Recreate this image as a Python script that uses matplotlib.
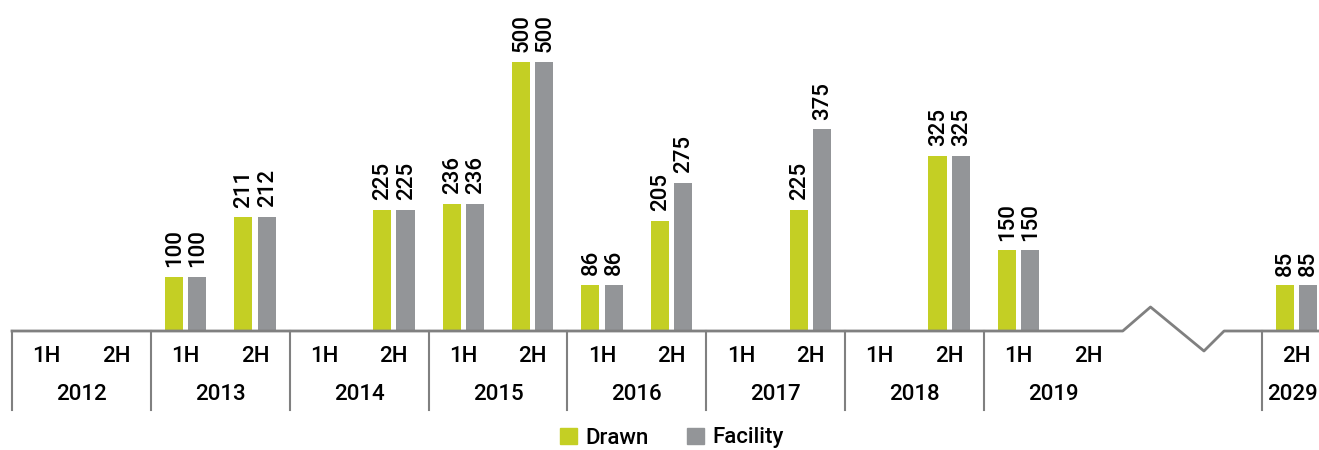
import numpy as np
import matplotlib.pyplot as plt
from matplotlib.patches import Patch

plt.rcParams['font.family'] = ['Roboto', 'DejaVu Sans']
plt.rcParams['font.weight'] = 'medium'

# half-year slots (2012 1H .. 2019 2H, then 2029 2H after the break)
years = ["2012", "2013", "2014", "2015", "2016", "2017", "2018", "2019", "2029"]
halves = ["1H", "2H"] * 8 + ["2H"]
drawn = [None, None, 100, 211, None, 225, 236, 500, 86, 205,
         None, 225, None, 325, 150, None, 85]
facility = [None, None, 100, 212, None, 225, 236, 500, 86, 275,
            None, 375, None, 325, 150, None, 85]

green = "#c4cf24"
grey = "#939598"
line_col = "#808080"
px = 0.538  # pixels per value unit (500 -> 269 px)

# slot positions: 16 slots, then 2 units gap for the break
pos = np.array(list(np.arange(16) + 0.5) + [18.5])
brk_start, brk_end = 16, 18

fig = plt.figure(figsize=(13.19, 4.5), dpi=100)
ax = fig.add_axes([12 / 1319, 119 / 450, 1.0, 331 / 450])
ax.set_xlim(0, 19)
ax.set_ylim(0, 331 / px)
ax.axis("off")

off, w = 0.168, 0.26
d = np.array([np.nan if v is None else v for v in drawn], dtype=float)
f = np.array([np.nan if v is None else v for v in facility], dtype=float)
ax.bar(pos - off, d, width=w, color=green, zorder=2)
ax.bar(pos + off, f, width=w, color=grey, zorder=2)

for xs, vals in ((pos - off, d), (pos + off, f)):
    for x, v in zip(xs, vals):
        if np.isnan(v):
            continue
        ax.annotate(f"{v:.0f}", xy=(x, v), xytext=(0.5, 7), textcoords="offset points",
                    rotation=90, ha="center", va="bottom", fontsize=16)

# baseline with zigzag break
u = 1 / px  # pixels -> value units
zx = [0, brk_start, brk_start + 0.4, brk_start + 1.17, brk_start + 1.46, 19]
zy = [0, 0, 24 * u, -20 * u, 0, 0]
ax.plot(zx, zy, color=line_col, lw=2, clip_on=False, zorder=3)

# separators
for xs in list(range(0, 16, 2)) + [brk_end]:
    ax.plot([xs, xs], [0, -79 * u], color=line_col, lw=1.5, clip_on=False)

# category labels
for x, h in zip(pos, halves):
    ax.annotate(h, xy=(x, 0), xytext=(0, -26 * 0.72), textcoords="offset points",
                ha="center", va="center", fontsize=16)
year_pos = list(np.arange(8) * 2 + 1) + [18.45]
for x, y in zip(year_pos, years):
    ax.annotate(y, xy=(x, 0), xytext=(0, -64 * 0.72), textcoords="offset points",
                ha="center", va="center", fontsize=16)

handles = [Patch(color=green, label="Drawn"), Patch(color=grey, label="Facility")]
fig.legend(handles=handles, loc="center", bbox_to_anchor=(672 / 1319, 12 / 450),
           ncol=2, frameon=False, fontsize=16, handlelength=0.75, handleheight=0.75,
           handletextpad=0.4, columnspacing=1.7)

fig.savefig("out.png", dpi=100)
